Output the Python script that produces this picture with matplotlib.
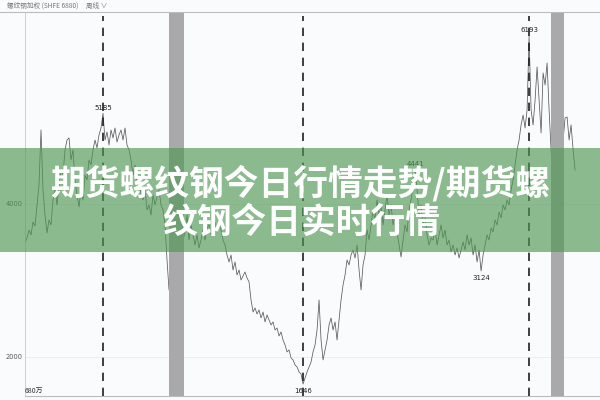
import numpy as np
import matplotlib.pyplot as plt

plt.rcParams['font.family'] = ['Noto Sans CJK SC', 'DejaVu Sans']

# weekly rebar (SHFE) weighted price
prices = [
    3490, 3556, 3660, 3595, 3765, 3712, 3987, 4248, 4967, 4183,
    3856, 3621, 3791, 3726, 4052, 4183, 3987, 4248, 4444, 4379,
    4706, 4836, 4863, 4575, 4706, 4314, 4118, 3961, 4183, 4052,
    4379, 4314, 4575, 4510, 4706, 4836, 4732, 4902, 4993, 5185,
    4836, 4941, 4771, 4967, 4863, 4993, 4810, 4902, 4967, 4836,
    4993, 4771, 4706, 4575, 4379, 4510, 4248, 4314, 4118, 4052,
    4183, 3922, 3987, 3856, 4118, 3987, 4090, 4183, 3987, 3922,
    3726, 3268, 2876, 3203, 3399, 3529, 3595, 3464, 3660, 3529,
    3634, 3856, 3529, 3726, 3595, 3464, 3595, 3425, 3529, 3660,
    3529, 3686, 3726, 3595, 3686, 3765, 3634, 3726, 3660, 3529,
    3464, 3333, 3242, 3333, 3137, 3242, 3072, 3137, 3007, 3059,
    3111, 3033, 2981, 2745, 2588, 2641, 2562, 2615, 2510, 2588,
    2458, 2549, 2484, 2419, 2458, 2353, 2379, 2275, 2327, 2222,
    2157, 2066, 2092, 1987, 1961, 1896, 1870, 1804, 1778, 1646,
    1726, 1804, 1870, 1935, 2066, 2157, 2353, 2745, 2222, 1961,
    2092, 2222, 2419, 2510, 2353, 2458, 2222, 2484, 2745, 2941,
    3072, 3268, 3203, 3333, 3399, 3294, 3464, 3137, 2876, 3203,
    3333, 3660, 3529, 3726, 3922, 3791, 4052, 3856, 3987, 3726,
    3922, 4118, 3856, 3987, 3726, 3856, 3634, 3464, 3307, 3529,
    3726, 3634, 3922, 4052, 4248, 4441, 4183, 3856, 3987, 3726,
    3817, 3595, 3464, 3556, 3529, 3660, 3464, 3595, 3726, 3556,
    3660, 3464, 3529, 3373, 3464, 3333, 3425, 3294, 3399, 3503,
    3399, 3595, 3464, 3556, 3333, 3464, 3242, 3399, 3124, 3333,
    3464, 3595, 3529, 3686, 3634, 3791, 3726, 3895, 3817, 3987,
    3922, 4052, 3987, 4183, 4314, 4510, 4706, 4836, 5033, 5163,
    4993, 5229, 6193, 5229, 5033, 5359, 5791, 5359, 4928, 5712,
    5555, 5843, 5229, 4706, 4248, 4379, 4575, 4706, 5033, 4836,
    5124, 5137, 4836, 5033, 4706, 4444,
]
years = np.linspace(2009.23, 2022.48, len(prices))

y_ticks = [2000, 4000]
shaded = [(2012.70, 2013.06), (2021.90, 2022.22)]
marked = [5185, 1646, 6193]          # dashed verticals
labels_up = [5185, 6193, 4441]
labels_down = [1646, 3124]

title_1 = '期货螺纹钢今日行情走势/期货螺'
title_2 = '纹钢今日实时行情'
header = '螺纹钢加权 (SHFE 6880)     周线 ∨'

bg = '#fafbfc'
fig = plt.figure(figsize=(6, 4), dpi=100, facecolor=bg)
ax = fig.add_axes([25 / 600, 4 / 400, 575 / 600, 384 / 400], facecolor=bg)

ax.plot(years, prices, color='#5a5a5a', lw=0.55, zorder=2)
for a, b in shaded:
    ax.axvspan(a, b, color='#a9a9ab', lw=0, zorder=3)
for v in marked:
    ax.axvline(years[prices.index(v)], ymax=0.99, color='#1e1e1e', lw=1.2,
               linestyle=(0, (5, 4)), zorder=4)

for v in labels_up:
    i = prices.index(v)
    ax.annotate(str(v), (years[i], v), xytext=(0, 2), textcoords='offset points',
                ha='center', va='bottom', fontsize=5, color='#222222',
                family='DejaVu Sans', zorder=5)
for v in labels_down:
    i = prices.index(v)
    ax.annotate(str(v), (years[i], v), xytext=(0, -3), textcoords='offset points',
                ha='center', va='top', fontsize=5, color='#222222',
                family='DejaVu Sans', zorder=5)

ax.set_xlim(2009.23, 2023.08)
ax.set_ylim(1490, 6509)
ax.set_xticks([])
ax.set_yticks(y_ticks)
ax.set_yticklabels([str(t) for t in y_ticks], fontsize=4.8, color='#555555',
                   family='DejaVu Sans')
ax.tick_params(axis='y', length=0, pad=2)
ax.grid(axis='y', color='#ececee', lw=0.6)
ax.set_axisbelow(True)
for s in ['top', 'right']:
    ax.spines[s].set_visible(False)
ax.spines['left'].set_color('#c8c8c8')
ax.spines['left'].set_linewidth(0.6)
ax.spines['bottom'].set_color('#bbbbbb')
ax.spines['bottom'].set_linewidth(0.8)

ax.text(0.0, 0.002, '680万', transform=ax.transAxes, fontsize=5,
        color='#333333', va='bottom', ha='left')

# header strip
fig.add_artist(plt.Line2D([0, 1], [388 / 400, 388 / 400], color='#bdbdbd', lw=0.8))
fig.text(7 / 600, 394 / 400, header, fontsize=4.8, color='#777777', va='center')

# green banner across the middle
fig.patches.append(plt.Rectangle((0, 148 / 400), 1, 104 / 400,
                                 transform=fig.transFigure, color='#4e9853',
                                 alpha=0.65, lw=0, zorder=10))
fig.text(0.5, 1 - 183 / 400, title_1, ha='center', va='center', fontsize=25,
         color='white', fontweight='bold', zorder=11)
fig.text(0.502, 1 - 222 / 400, title_2, ha='center', va='center', fontsize=25,
         color='white', fontweight='bold', zorder=11)

fig.savefig('out.png', dpi=100, facecolor=bg)
